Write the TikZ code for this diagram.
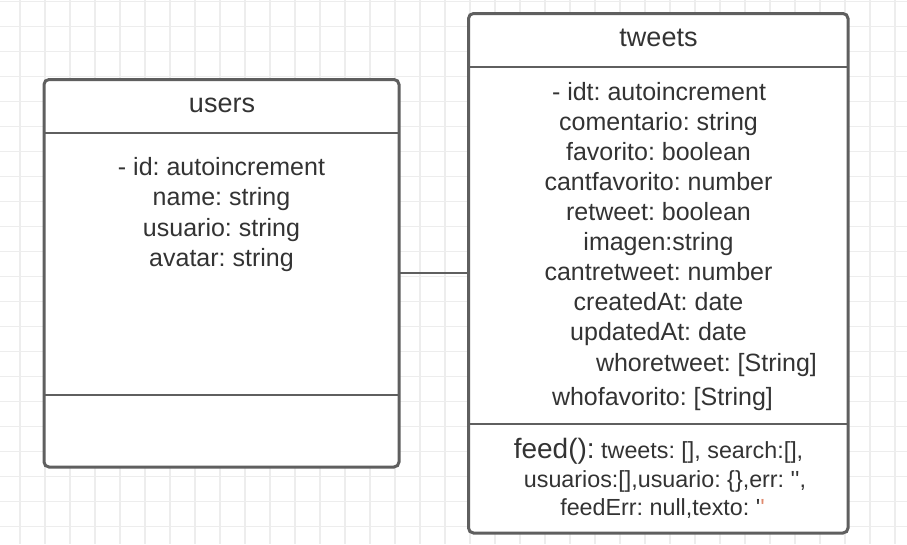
\documentclass[tikz,border=0pt]{standalone}
\usepackage{fontspec}
\setmainfont{Liberation Sans}[Ligatures=TeXOff]
\definecolor{gridc}{HTML}{EDEDED}
\definecolor{boxc}{HTML}{5F5F5F}
\definecolor{txtc}{HTML}{333333}
\definecolor{quotec}{HTML}{E08A6E}
\tikzset{
  umlbox/.style={draw=boxc, line width=3pt, fill=white, rounded corners=5pt, inner sep=0pt, outer sep=0pt, rectangle},
  sepline/.style={draw=boxc, line width=2.6pt},
  conn/.style={draw=boxc, line width=2.4pt},
  ttl/.style={text=txtc, anchor=base, inner sep=0pt, font=\fontsize{27}{32}\selectfont},
  fld/.style={text=txtc, anchor=base, inner sep=0pt, font=\fontsize{25}{30}\selectfont},
  fsm/.style={text=txtc, anchor=base, inner sep=0pt, font=\fontsize{23.3}{27}\selectfont},
}
\begin{document}
\frenchspacing
\begin{tikzpicture}[x=1pt,y=-1pt]
\useasboundingbox (0,0) rectangle (907,544);
\fill[white] (0,0) rectangle (907,544);
% grid
\foreach \gx in {20,45,...,900} \draw[gridc, line width=1.4pt] (\gx,0) -- (\gx,544);
\foreach \gy in {1.7,26.7,...,544} \draw[gridc, line width=1.4pt] (0,\gy) -- (907,\gy);
% boxes
\node[umlbox, minimum width=355pt, minimum height=387.5pt] (users) at (221.5,273.25) {};
\node[umlbox, minimum width=379.5pt, minimum height=519.5pt] (tweets) at (658.25,273.25) {};
% separators
\draw[sepline] (users.west |- 0,133) -- (users.east |- 0,133);
\draw[sepline] (users.west |- 0,395) -- (users.east |- 0,395);
\draw[sepline] (tweets.west |- 0,67) -- (tweets.east |- 0,67);
\draw[sepline] (tweets.west |- 0,424) -- (tweets.east |- 0,424);
% connector
\draw[conn] (users.east) -- (tweets.west);
% users text
\node[ttl] (ut) at (222,112) {users};
\node[fld] (u1) at (221.5,175) {- id: autoincrement};
\node[fld] (u2) at (221.5,205.5) {name: string};
\node[fld] (u3) at (221.5,236) {usuario: string};
\node[fld] (u4) at (221.5,266) {avatar: string};
% tweets text
\node[ttl] (tt) at (658.5,46) {tweets};
\node[fld] (t1) at (659,100) {- idt: autoincrement};
\node[fld] (t2) at (658.5,130) {comentario: string};
\node[fld] (t3) at (658.5,160) {favorito: boolean};
\node[fld] (t4) at (658.5,190) {cantfavorito: number};
\node[fld] (t5) at (658.5,220) {retweet: boolean};
\node[fld] (t6) at (658.5,250) {imagen:string};
\node[fld] (t7) at (658.5,280) {cantretweet: number};
\node[fld] (t8) at (658.5,310) {createdAt: date};
\node[fld] (t9) at (658.5,340.5) {updatedAt: date};
\node[fld] (t10) at (706.5,371) {whoretweet: [String]};
\node[fld] (t11) at (662.5,405.5) {whofavorito: [String]};
% feed
\node[fsm] (f1) at (658.5,458) {{\fontsize{28}{32}\selectfont feed():} tweets: [], search:[],};
\node[fsm] (f2) at (665,487) {usuarios:[],usuario: \{\},err: \symbol{39}\symbol{39},};
\node[fsm] (f3) at (662.5,515.5) {feedErr: null,texto: \symbol{39}\textcolor{quotec}{\symbol{39}}};
\end{tikzpicture}
\end{document}
